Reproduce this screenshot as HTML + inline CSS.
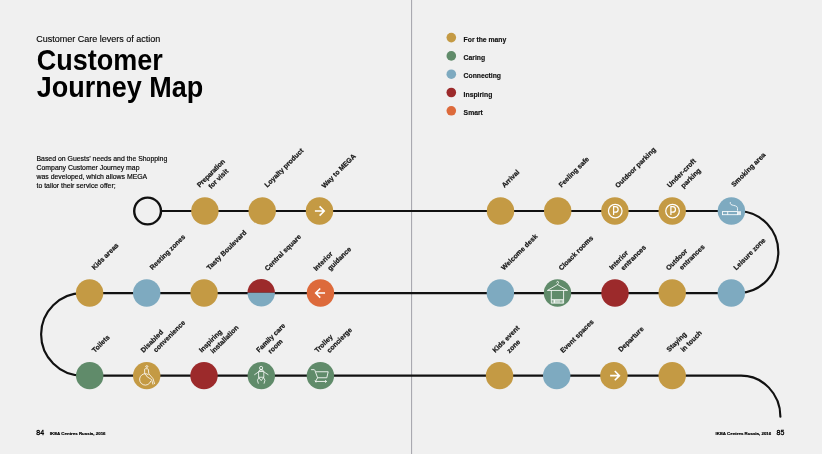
<!DOCTYPE html>
<html><head><meta charset="utf-8"><title>Customer Journey Map</title>
<style>
html,body{margin:0;padding:0;background:#f0f0f0;}
body{width:822px;height:454px;overflow:hidden;position:relative;font-family:"Liberation Sans",Arial,sans-serif;color:#111;}
svg{position:absolute;left:0;top:0;}
.lbl text{font-family:"Liberation Sans",Arial,sans-serif;font-weight:700;font-size:6.9px;fill:#151515;stroke:#151515;stroke-width:0.22px;}
.leg{font-family:"Liberation Sans",Arial,sans-serif;font-weight:700;font-size:6.8px;fill:#111;stroke:#111;stroke-width:0.15px;}
.sub{font-size:9px;fill:#000;stroke:#000;stroke-width:0.12px;}
.title text{font-size:27px;font-weight:700;fill:#000;}
.para text{font-size:6.9px;fill:#000;stroke:#000;stroke-width:0.15px;}
.pn{font-size:7px;fill:#000;stroke:#000;stroke-width:0.3px;}
.ft{font-size:4.4px;font-weight:700;fill:#000;stroke:#000;stroke-width:0.18px;}
svg text{font-family:"Liberation Sans",Arial,sans-serif;}
</style></head><body>
<svg width="822" height="454" viewBox="0 0 822 454">
<rect x="411" y="0" width="1.1" height="454" fill="#a9a9b0"/><path d="M161.5 211.0H739.7A41.1 41.1 0 0 1 739.7 293.05H82.4A41.2 41.2 0 0 0 82.4 375.65H741A39.3 41 0 0 1 780.4 416.65" fill="none" stroke="#111" stroke-width="2.15" stroke-linecap="round"/><circle cx="147.6" cy="211.0" r="13.4" fill="#f0f0f0" stroke="#111" stroke-width="2.4"/><circle cx="204.9" cy="211.0" r="13.72" fill="#c49a44"/><circle cx="262.2" cy="211.0" r="13.72" fill="#c49a44"/><circle cx="319.5" cy="211.0" r="13.72" fill="#c49a44"/><g fill="none" stroke="#fff" stroke-width="1.6" stroke-linejoin="miter"><path d="M314.90 211.00L324.50 211.00M319.60 206.40L324.20 211.00L319.60 215.60"/></g><circle cx="500.5" cy="211.0" r="13.72" fill="#c49a44"/><circle cx="557.7" cy="211.0" r="13.72" fill="#c49a44"/><circle cx="614.9" cy="211.0" r="13.72" fill="#c49a44"/><g fill="none" stroke="#fff" stroke-width="1.25"><circle cx="615.25" cy="211.05" r="6.8"/><path d="M613.60 214.90L613.60 206.70L615.40 206.70A2.75 2.75 0 0 1 615.40 212.20L613.60 212.20"/></g><circle cx="672.2" cy="211.0" r="13.72" fill="#c49a44"/><g fill="none" stroke="#fff" stroke-width="1.25"><circle cx="672.55" cy="211.05" r="6.8"/><path d="M670.90 214.90L670.90 206.70L672.70 206.70A2.75 2.75 0 0 1 672.70 212.20L670.90 212.20"/></g><circle cx="731.4" cy="211.0" r="13.72" fill="#7eaac0"/><g fill="none" stroke="#fff" stroke-width="0.85"><rect x="722.50" y="211.60" width="15.1" height="3.1"/><path d="M727.70 211.60L727.70 214.70"/><path d="M730.30 202.10C730.00 204.40 731.10 204.90 733.60 205.40C736.80 206.00 737.50 206.90 737.50 208.60L737.50 210.60"/></g><rect x="737.95" y="211.20" width="3.0" height="3.9" fill="#e6edf1"/><circle cx="89.6" cy="293.05" r="13.72" fill="#c49a44"/><circle cx="146.7" cy="293.05" r="13.72" fill="#7eaac0"/><circle cx="204.05" cy="293.05" r="13.72" fill="#c49a44"/><path d="M247.48 292.75A13.72 13.72 0 0 1 274.92 292.75Z" fill="#9c2a2b"/><path d="M247.48 292.75A13.72 13.72 0 0 0 274.92 292.75Z" fill="#7eaac0"/><circle cx="320.45" cy="293.05" r="13.72" fill="#dd6a3b"/><g fill="none" stroke="#fff" stroke-width="1.6" stroke-linejoin="miter"><path d="M325.05 293.05L315.45 293.05M320.25 288.45L315.65 293.05L320.25 297.65"/></g><circle cx="500.4" cy="293.05" r="13.72" fill="#7eaac0"/><circle cx="557.5" cy="293.05" r="13.72" fill="#608b6a"/><g fill="none" stroke="#fff" stroke-width="0.85"><path d="M556.50 282.45C556.90 280.75 559.20 281.35 558.40 282.85C557.90 283.65 557.50 283.75 557.50 284.75"/><path d="M547.40 290.45L557.50 284.55L567.60 290.45Z"/><path d="M551.30 290.45L551.30 303.15L563.60 303.15L563.60 290.45"/><path d="M551.30 299.65L563.60 299.65"/></g><rect x="551.70" y="299.95" width="11.5" height="2.9" fill="#fff" fill-opacity="0.62"/><rect x="553.90" y="299.95" width="0.9" height="2.9" fill="#fff"/><rect x="552.10" y="300.35" width="1.1" height="2.1" fill="#608b6a" fill-opacity="0.6"/><rect x="560.30" y="300.35" width="1.3" height="2.1" fill="#608b6a" fill-opacity="0.6"/><circle cx="615.0" cy="293.05" r="13.72" fill="#9c2a2b"/><circle cx="672.2" cy="293.05" r="13.72" fill="#c49a44"/><circle cx="731.3" cy="293.05" r="13.72" fill="#7eaac0"/><circle cx="89.7" cy="375.65" r="13.72" fill="#608b6a"/><circle cx="146.7" cy="375.65" r="13.72" fill="#c49a44"/><g fill="none" stroke="#fff" stroke-width="0.8" stroke-linejoin="round"><ellipse cx="146.80" cy="366.55" rx="1.1" ry="0.85"/><path d="M144.70 373.75L144.60 369.35Q144.70 368.75 145.30 368.75L147.60 368.75Q148.20 368.75 148.30 369.35L148.80 373.65L153.10 378.75L154.60 384.05"/><path d="M145.10 373.75L147.30 376.95L151.60 379.55L153.00 384.55"/><path d="M148.57 374.73A5.7 5.7 0 1 0 150.81 380.88"/></g><circle cx="204.0" cy="375.65" r="13.72" fill="#9c2a2b"/><circle cx="261.3" cy="375.65" r="13.72" fill="#608b6a"/><g fill="none" stroke="#fff" stroke-width="0.8" stroke-linejoin="round"><circle cx="261.10" cy="367.95" r="1.6"/><path d="M260.20 369.45L258.60 371.55L263.80 371.55L262.20 369.45Z" fill="#fff" fill-opacity="0.45"/><path d="M258.60 371.55L258.60 377.25L263.80 377.25L263.80 371.55"/><path d="M258.30 372.05L254.30 374.85M264.10 372.05L268.40 374.85"/><path d="M258.60 377.25L261.20 380.65L263.80 377.25"/><path d="M258.80 377.65Q256.30 379.95 258.40 383.65M263.60 377.65Q266.10 379.95 264.00 383.65"/></g><circle cx="320.4" cy="375.65" r="13.72" fill="#608b6a"/><g fill="none" stroke="#fff" stroke-width="0.85" stroke-linejoin="round"><path d="M311.10 369.65L314.00 369.65Q314.60 369.65 314.90 370.35L317.60 377.75L315.50 381.45L326.40 381.45"/><path d="M315.90 371.75L328.20 371.75L326.80 377.75L317.60 377.75"/><path d="M325.20 380.25L326.60 381.45L325.20 382.65"/><path d="M315.00 380.45L316.00 382.45"/></g><circle cx="499.55" cy="375.65" r="13.72" fill="#c49a44"/><circle cx="556.7" cy="375.65" r="13.72" fill="#7eaac0"/><circle cx="613.9" cy="375.65" r="13.72" fill="#c49a44"/><g fill="none" stroke="#fff" stroke-width="1.6" stroke-linejoin="miter"><path d="M610.10 375.65L619.70 375.65M614.80 371.05L619.40 375.65L614.80 380.25"/></g><circle cx="672.2" cy="375.65" r="13.72" fill="#c49a44"/><circle cx="451.3" cy="37.60" r="4.8" fill="#c49a44"/><text x="463.6" y="41.60" class="leg">For the many</text><circle cx="451.3" cy="55.90" r="4.8" fill="#608b6a"/><text x="463.6" y="59.90" class="leg">Caring</text><circle cx="451.3" cy="74.20" r="4.8" fill="#7eaac0"/><text x="463.6" y="78.20" class="leg">Connecting</text><circle cx="451.3" cy="92.50" r="4.8" fill="#9c2a2b"/><text x="463.6" y="96.50" class="leg">Inspiring</text><circle cx="451.3" cy="110.80" r="4.8" fill="#dd6a3b"/><text x="463.6" y="114.80" class="leg">Smart</text>
<g class="lbl"><text transform="translate(199.70 187.70) rotate(-45)" letter-spacing="-0.2">Preparation</text><text transform="translate(211.20 189.20) rotate(-45)">for visit</text><text transform="translate(267.30 187.70) rotate(-45)">Loyalty product</text><text transform="translate(324.40 188.40) rotate(-45)">Way to MEGA</text><text transform="translate(504.40 188.10) rotate(-45)">Arrival</text><text transform="translate(561.40 187.70) rotate(-45)">Feeling safe</text><text transform="translate(618.00 188.30) rotate(-45)">Outdoor parking</text><text transform="translate(669.80 188.00) rotate(-45)">Under-croft</text><text transform="translate(683.60 188.50) rotate(-45)">parking</text><text transform="translate(734.10 187.20) rotate(-45)">Smoking area</text><text transform="translate(94.40 270.35) rotate(-45)">Kids areas</text><text transform="translate(152.60 270.35) rotate(-45)">Resting zones</text><text transform="translate(209.45 270.45) rotate(-45)">Tasty Boulevard</text><text transform="translate(267.40 271.25) rotate(-45)">Central square</text><text transform="translate(316.25 271.25) rotate(-45)">Interior</text><text transform="translate(330.25 270.95) rotate(-45)">guidance</text><text transform="translate(504.10 270.55) rotate(-45)">Welcome desk</text><text transform="translate(561.40 270.75) rotate(-45)">Cloack rooms</text><text transform="translate(611.90 270.25) rotate(-45)">Interior</text><text transform="translate(623.50 270.75) rotate(-45)">entrances</text><text transform="translate(668.70 270.75) rotate(-45)">Outdoor</text><text transform="translate(682.10 270.25) rotate(-45)">entrances</text><text transform="translate(736.20 270.45) rotate(-45)">Leisure zone</text><text transform="translate(94.80 353.05) rotate(-45)">Toilets</text><text transform="translate(143.40 352.95) rotate(-45)">Disabled</text><text transform="translate(156.10 352.65) rotate(-45)">convenience</text><text transform="translate(201.80 352.75) rotate(-45)">Inspiring</text><text transform="translate(213.30 353.85) rotate(-45)">installation</text><text transform="translate(259.00 352.75) rotate(-45)">Family care</text><text transform="translate(270.80 354.05) rotate(-45)">room</text><text transform="translate(317.50 353.05) rotate(-45)">Trolley</text><text transform="translate(329.50 353.25) rotate(-45)">concierge</text><text transform="translate(495.25 353.05) rotate(-45)">Kids event</text><text transform="translate(509.55 353.45) rotate(-45)">zone</text><text transform="translate(563.10 353.35) rotate(-45)">Event spaces</text><text transform="translate(621.10 352.35) rotate(-45)">Departure</text><text transform="translate(669.30 352.35) rotate(-45)">Staying</text><text transform="translate(683.40 352.25) rotate(-45)">in touch</text></g>
<text class="sub" x="36.3" y="41.7">Customer Care levers of action</text>
<g class="title"><text transform="translate(36.8 70) scale(1 1.08)">Customer</text><text transform="translate(36.8 97.2) scale(1 1.08)">Journey Map</text></g>
<g class="para"><text x="36.5" y="160.7">Based on Guests&#8217; needs and the Shopping</text><text x="36.5" y="169.7">Company Customer Journey map</text><text x="36.5" y="178.7">was developed, which allows MEGA</text><text x="36.5" y="187.7">to tailor their service offer;</text></g>
<text class="pn" x="36.3" y="434.8">84</text>
<text class="ft" x="49.8" y="435.1">IKEA Centres Russia, 2016</text>
<text class="ft" x="715.5" y="435.1">IKEA Centres Russia, 2016</text>
<text class="pn" x="776.6" y="434.8">85</text>
</svg>
</body></html>
